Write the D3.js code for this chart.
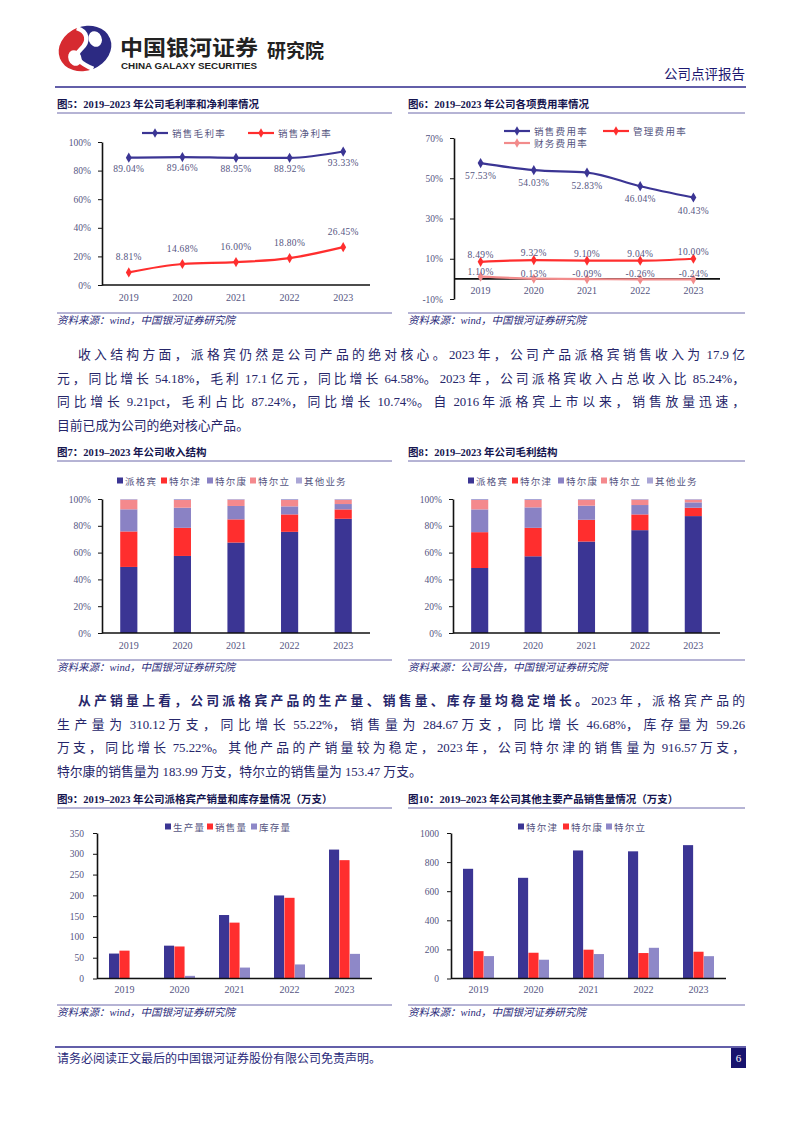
<!DOCTYPE html>
<html><head><meta charset="utf-8">
<script src="https://cdn.jsdelivr.net/npm/d3@7"></script>
<style>
body{margin:0;background:#fff;}
svg{display:block;}
</style></head><body>
<div id="page"></div>
<script>
// Company review report page 6: margins, expense ratios, revenue / gross-profit structure, volumes

const years = ['2019', '2020', '2021', '2022', '2023'];

// Fig 5: gross / net margin (%)
const grossMargin = [89.04, 89.46, 88.95, 88.92, 93.33];
const netMargin = [8.81, 14.68, 16.00, 18.80, 26.45];

// Fig 6: expense ratios (%)
const sellingRate = [57.53, 54.03, 52.83, 46.04, 40.43];
const adminRate = [8.49, 9.32, 9.10, 9.04, 10.00];
const financeRate = [1.10, 0.13, -0.09, -0.26, -0.24];

// Fig 7 / Fig 8: products and shares (%)
const products = ['派格宾', '特尔津', '特尔康', '特尔立', '其他业务'];
const revPegbing = [49.3, 57.5, 67.5, 75.5, 85.24];
const revTeerjin = [26.5, 21.0, 17.3, 13.0, 7.0];
const revTeerkang = [16.5, 15.0, 10.0, 6.0, 4.0];
const revTeerli = [7.2, 5.8, 4.7, 4.8, 3.2];
const revOther = [0.5, 0.7, 0.5, 0.7, 0.56];

const gpPegbing = [48.5, 57.25, 68.25, 76.75, 87.24];
const gpTeerjin = [26.75, 21.25, 16.25, 11.75, 6.25];
const gpTeerkang = [17.0, 15.25, 10.5, 7.0, 4.0];
const gpTeerli = [7.0, 5.5, 4.5, 4.0, 2.0];
const gpOther = [0.75, 0.75, 0.5, 0.5, 0.51];

// Fig 9: 派格宾 volumes (万支)
const volSeries = ['生产量', '销售量', '库存量'];
const production = [60, 79, 152.7, 199.8, 310.12];
const salesVol = [67, 77, 134.4, 194.1, 284.67];
const inventory = [1.5, 6.4, 26.3, 33.8, 59.26];

// Fig 10: other products sales (万支)
const otherSeries = ['特尔津', '特尔康', '特尔立'];
const teerjinSales = [754, 692, 880, 874, 916.57];
const teerkangSales = [188, 177, 198, 175, 183.99];
const teerliSales = [154, 129, 168, 211, 153.47];

const yTicks5 = [0, 20, 40, 60, 80, 100];
const yTicks6 = [-10, 10, 30, 50, 70];
const yTicks9 = [0, 50, 100, 150, 200, 250, 300, 350];
const yTicks10 = [0, 200, 400, 600, 800, 1000];

const NAVY = '#3b3594', RED = '#ff2e2e', PURPLE = '#8a82c4', PINK = '#f4898d',
      LAV = '#aaa6d6', INV = '#8e88c8', FINPINK = '#f28b8b';
const TEXTC = '#26266a', TICKC = '#55557f';
const SERIF = '"Liberation Serif","Noto Sans CJK SC",serif';
const SANS = '"Noto Sans CJK SC","Liberation Sans",sans-serif';

const svg = d3.select('#page').append('svg').attr('width', 802).attr('height', 1133);

// ---------- header ----------
const logo = svg.append('g').attr('transform', 'translate(85,48.5) rotate(-22)');
logo.append('path')
    .attr('d', 'M 0 -22 A 27 22 0 0 0 0 22 C -10 12 -15 3 -4 -1 C 7 -5 9 -15 0 -22 Z')
    .attr('fill', '#d62a30');
logo.append('path')
    .attr('d', 'M 0 -22 A 27 22 0 0 1 0 22 C -10 12 -15 3 -4 -1 C 7 -5 9 -15 0 -22 Z')
    .attr('fill', '#2c2a82');
logo.append('path')
    .attr('d', 'M 0 22 C -10 12 -15 3 -4 -1 C 7 -5 9 -15 0 -22')
    .attr('fill', 'none').attr('stroke', '#fff').attr('stroke-width', 4.5);
logo.append('ellipse').attr('cx', -13).attr('cy', 5).attr('rx', 6.5).attr('ry', 8).attr('fill', '#fff');
logo.append('ellipse').attr('cx', 13).attr('cy', -5).attr('rx', 6.5).attr('ry', 8).attr('fill', '#fff');

svg.append('text').attr('x', 120).attr('y', 54.5)
    .attr('font-family', SANS).attr('font-weight', 'bold').attr('font-size', 21)
    .attr('textLength', 138).attr('lengthAdjust', 'spacingAndGlyphs')
    .attr('fill', '#222').text('中国银河证券');
svg.append('text').attr('x', 121).attr('y', 68.5)
    .attr('font-family', '"Liberation Sans",sans-serif').attr('font-weight', 'bold').attr('font-size', 9)
    .attr('textLength', 136).attr('lengthAdjust', 'spacingAndGlyphs')
    .attr('fill', '#222').text('CHINA GALAXY SECURITIES');
svg.append('text').attr('x', 267).attr('y', 58)
    .attr('font-family', SANS).attr('font-weight', 'bold').attr('font-size', 19)
    .attr('fill', '#222').text('研究院');
svg.append('text').attr('x', 745).attr('y', 79).attr('text-anchor', 'end')
    .attr('font-family', SANS).attr('font-size', 13.5)
    .attr('fill', '#1c1870').text('公司点评报告');
svg.append('line').attr('x1', 55).attr('x2', 746).attr('y1', 87).attr('y2', 87)
    .attr('stroke', '#2f2a8c').attr('stroke-width', 1.5);

// ---------- footer ----------
svg.append('line').attr('x1', 55).attr('x2', 746).attr('y1', 1047).attr('y2', 1047)
    .attr('stroke', '#2f2a8c').attr('stroke-width', 1.5);
svg.append('text').attr('x', 57).attr('y', 1063)
    .attr('font-family', SERIF).attr('font-size', 12)
    .attr('fill', '#2a2a7a').text('请务必阅读正文最后的中国银河证券股份有限公司免责声明。');
svg.append('rect').attr('x', 731).attr('y', 1048).attr('width', 15).attr('height', 20).attr('fill', '#17136e');
svg.append('text').attr('x', 738.5).attr('y', 1062).attr('text-anchor', 'middle')
    .attr('font-family', SERIF).attr('font-size', 11).attr('fill', '#fff').text('6');

// ---------- paragraphs (extra justify space only between CJK characters) ----------
const CJK_RE = /[\u3000-\u303f\u4e00-\u9fff\uff00-\uffef]+|[^\u3000-\u303f\u4e00-\u9fff\uff00-\uffef]+/g;
function para(lines, y0, gap) {
    lines.forEach((ln, i) => {
        const t = svg.append('text').attr('x', ln.x).attr('y', y0 + i * gap)
            .attr('font-family', SERIF).attr('font-size', 12.8).attr('fill', TEXTC);
        const segs = [];
        ln.parts.forEach(p => p.s.match(CJK_RE).forEach(s =>
            segs.push({ s, bold: p.bold, cjk: /[\u3000-\u9fff\uff00-\uffef]/.test(s) })));
        const spans = segs.map(sg => ({ sg, el: t.append('tspan').attr('font-weight', sg.bold ? 'bold' : 'normal').text(sg.s) }));
        if (ln.justify) {
            const natural = t.node().getComputedTextLength();
            let n = d3.sum(segs, s => s.cjk ? s.s.length : 0);
            if (segs[segs.length - 1].cjk) n -= 1;
            const extra = Math.max(0, (745 - ln.x - natural) / n);
            spans.filter(d => d.sg.cjk).forEach(d => d.el.attr('letter-spacing', extra));
        }
    });
}
para([
    { x: 78, justify: true, parts: [{ s: '收入结构方面，派格宾仍然是公司产品的绝对核心。2023 年，公司产品派格宾销售收入为 17.9 亿' }] },
    { x: 57, justify: true, parts: [{ s: '元，同比增长 54.18%，毛利 17.1 亿元，同比增长 64.58%。2023 年，公司派格宾收入占总收入比 85.24%，' }] },
    { x: 57, justify: true, parts: [{ s: '同比增长 9.21pct，毛利占比 87.24%，同比增长 10.74%。自 2016 年派格宾上市以来，销售放量迅速，' }] },
    { x: 57, justify: false, parts: [{ s: '目前已成为公司的绝对核心产品。' }] }
], 359, 23.7);
para([
    { x: 78, justify: true, parts: [{ s: '从产销量上看，公司派格宾产品的生产量、销售量、库存量均稳定增长。', bold: true }, { s: '2023 年，派格宾产品的' }] },
    { x: 57, justify: true, parts: [{ s: '生产量为 310.12 万支，同比增长 55.22%，销售量为 284.67 万支，同比增长 46.68%，库存量为 59.26' }] },
    { x: 57, justify: true, parts: [{ s: '万支，同比增长 75.22%。其他产品的产销量较为稳定，2023 年，公司特尔津的销售量为 916.57 万支，' }] },
    { x: 57, justify: false, parts: [{ s: '特尔康的销售量为 183.99 万支，特尔立的销售量为 153.47 万支。' }] }
], 705, 23.7);

// ---------- figure frames ----------
function frame(x0, x1, titleY, title, srcLineY, src) {
    svg.append('text').attr('x', x0).attr('y', titleY)
        .attr('font-family', SERIF).attr('font-weight', 'bold').attr('font-size', 10.5)
        .attr('fill', '#15154f').text(title);
    svg.append('line').attr('x1', x0).attr('x2', x1).attr('y1', titleY + 5).attr('y2', titleY + 5)
        .attr('stroke', '#6c68aa').attr('stroke-width', 1);
    svg.append('line').attr('x1', x0).attr('x2', x1).attr('y1', srcLineY).attr('y2', srcLineY)
        .attr('stroke', '#6c68aa').attr('stroke-width', 1);
    svg.append('text').attr('x', x0).attr('y', srcLineY + 11)
        .attr('font-family', SERIF).attr('font-style', 'italic').attr('font-size', 10.5)
        .attr('fill', '#2a2a7a').text(src);
}
frame(57, 392, 108, '图5：2019–2023 年公司毛利率和净利率情况', 313, '资料来源：wind，中国银河证券研究院');
frame(408, 745, 108, '图6：2019–2023 年公司各项费用率情况', 313, '资料来源：wind，中国银河证券研究院');
frame(57, 392, 456, '图7：2019–2023 年公司收入结构', 660, '资料来源：wind，中国银河证券研究院');
frame(408, 745, 456, '图8：2019–2023 年公司毛利结构', 660, '资料来源：公司公告，中国银河证券研究院');
frame(57, 392, 803, '图9：2019–2023 年公司派格宾产销量和库存量情况（万支）', 1005, '资料来源：wind，中国银河证券研究院');
frame(408, 745, 803, '图10：2019–2023 年公司其他主要产品销售量情况（万支）', 1005, '资料来源：wind，中国银河证券研究院');

// ---------- axis helpers ----------
function yAxis(g, y, x0, tickVals, fmt, labelGap) {
    const ax = g.append('g').attr('transform', `translate(${x0},0)`)
        .call(d3.axisLeft(y).tickValues(tickVals).tickFormat(fmt).tickSize(4).tickSizeOuter(0).tickPadding(labelGap));
    ax.select('.domain').attr('stroke', '#111').attr('stroke-width', 1.6);
    ax.selectAll('.tick line').attr('stroke', '#111');
    ax.selectAll('.tick text').attr('font-family', SERIF).attr('font-size', 9.5).attr('fill', TICKC);
}
function xLine(g, x, yPos) {
    g.append('line').attr('x1', x.range()[0]).attr('x2', x.range()[1])
        .attr('y1', yPos).attr('y2', yPos).attr('stroke', '#111').attr('stroke-width', 1.6);
}
function xLabels(g, x, yPos) {
    g.selectAll(null).data(years).join('text')
        .attr('x', d => x(d) + x.bandwidth() / 2).attr('y', yPos).attr('text-anchor', 'middle')
        .attr('font-family', SERIF).attr('font-size', 10).attr('fill', TICKC).text(d => d);
}
function lineLegend(g, items, y) {
    items.forEach(it => {
        g.append('line').attr('x1', it.x).attr('x2', it.x + 26).attr('y1', y + (it.dy || 0)).attr('y2', y + (it.dy || 0))
            .attr('stroke', it.color).attr('stroke-width', 2.2);
        g.append('path').attr('d', d3.symbol(d3.symbolDiamond, 26)())
            .attr('transform', `translate(${it.x + 13},${y + (it.dy || 0)})`).attr('fill', it.color);
        g.append('text').attr('x', it.x + 30).attr('y', y + (it.dy || 0) + 3.5)
            .attr('font-family', SERIF).attr('font-size', 9.5).attr('letter-spacing', 1.3)
            .attr('fill', TICKC).text(it.label);
    });
}
function boxLegend(g, items, y) {
    items.forEach(it => {
        g.append('rect').attr('x', it.x).attr('y', y - 3.5).attr('width', 6).attr('height', 6).attr('fill', it.color);
        g.append('text').attr('x', it.x + 8).attr('y', y + 3.5)
            .attr('font-family', SERIF).attr('font-size', 9.5).attr('letter-spacing', 1.2)
            .attr('fill', TICKC).text(it.label);
    });
}
function drawLine(g, x, y, vals, color, labelDy) {
    const pts = vals.map((v, i) => ({ k: years[i], v }));
    const cx = d => x(d.k) + x.bandwidth() / 2;
    g.append('path').datum(pts)
        .attr('d', d3.line().x(cx).y(d => y(d.v)).curve(d3.curveMonotoneX))
        .attr('fill', 'none').attr('stroke', color).attr('stroke-width', 2.2);
    g.selectAll(null).data(pts).join('path')
        .attr('d', d3.symbol(d3.symbolDiamond, 30)())
        .attr('transform', d => `translate(${cx(d)},${y(d.v)})`).attr('fill', color);
    g.selectAll(null).data(pts).join('text')
        .attr('x', cx).attr('y', d => y(d.v) + labelDy).attr('text-anchor', 'middle')
        .attr('font-family', SERIF).attr('font-size', 9.5).attr('letter-spacing', 0.3)
        .attr('fill', TICKC).text(d => d.v.toFixed(2) + '%');
}

// ---------- Fig 5 ----------
{
    const g = svg.append('g');
    const x = d3.scaleBand().domain(years).range([102, 370]);
    const y = d3.scaleLinear().domain([0, 100]).range([285, 142]);
    yAxis(g, y, 102, yTicks5, d => d + '%', 7);
    xLine(g, x, y(0));
    xLabels(g, x, 301);
    drawLine(g, x, y, grossMargin, NAVY, 14);
    drawLine(g, x, y, netMargin, RED, -12);
    lineLegend(g, [{ x: 142, color: NAVY, label: '销售毛利率' }, { x: 248, color: RED, label: '销售净利率' }], 133);
}

// ---------- Fig 6 ----------
{
    const g = svg.append('g');
    const x = d3.scaleBand().domain(years).range([454, 720]);
    const y = d3.scaleLinear().domain([-10, 70]).range([299, 138]);
    yAxis(g, y, 454, yTicks6, d => d + '%', 7);
    xLine(g, x, y(0));
    xLabels(g, x, 294);
    drawLine(g, x, y, financeRate, FINPINK, -2);
    drawLine(g, x, y, adminRate, RED, -4);
    drawLine(g, x, y, sellingRate, NAVY, 16);
    lineLegend(g, [
        { x: 504, color: NAVY, label: '销售费用率' },
        { x: 603, color: RED, label: '管理费用率' },
        { x: 504, color: FINPINK, label: '财务费用率', dy: 12 }
    ], 131);
}

// ---------- Fig 7 / Fig 8: stacked structure ----------
const structColors = [NAVY, RED, PURPLE, PINK, LAV];
function stacked(x0, x1, seriesVals) {
    const g = svg.append('g');
    const x = d3.scaleBand().domain(years).range([x0, x1]).paddingInner(0.68).paddingOuter(0.34);
    const y = d3.scaleLinear().domain([0, 100]).range([633, 499]);
    const rows = years.map((yr, i) => {
        const r = { year: yr };
        products.forEach((p, j) => { r[p] = seriesVals[j][i]; });
        return r;
    });
    const stack = d3.stack().keys(products)(rows);
    g.selectAll(null).data(stack).join('g').attr('fill', (d, i) => structColors[i])
        .selectAll('rect').data(d => d).join('rect')
        .attr('x', d => x(d.data.year)).attr('width', x.bandwidth())
        .attr('y', d => y(Math.min(d[1], 100))).attr('height', d => y(d[0]) - y(Math.min(d[1], 100)));
    yAxis(g, y, x0, yTicks5, d => d + '%', 7);
    const xb = d3.scaleBand().domain(years).range([x0, x1]);
    xLine(g, xb, y(0));
    xLabels(g, xb, 649);
    const lx = x0 + 15;
    boxLegend(g, products.map((p, i) => ({
        x: lx + [0, 44, 90, 133, 179][i], color: structColors[i], label: p
    })), 481);
}
stacked(102, 370, [revPegbing, revTeerjin, revTeerkang, revTeerli, revOther]);
stacked(453, 720, [gpPegbing, gpTeerjin, gpTeerkang, gpTeerli, gpOther]);

// ---------- Fig 9 / Fig 10: grouped bars ----------
function grouped(x0, x1, yMax, ticks, names, vals, colors, legendXs, labelGap) {
    const g = svg.append('g');
    const x = d3.scaleBand().domain(years).range([x0, x1]).paddingInner(0.425).paddingOuter(0.2125);
    const xi = d3.scaleBand().domain(names).range([0, x.bandwidth()]).padding(0.03);
    const y = d3.scaleLinear().domain([0, yMax]).range([978.5, 833]);
    const rows = years.map((yr, i) => ({ year: yr, vals: names.map((n, j) => ({ n, v: vals[j][i], c: colors[j] })) }));
    g.selectAll(null).data(rows).join('g')
        .attr('transform', d => `translate(${x(d.year)},0)`)
        .selectAll('rect').data(d => d.vals).join('rect')
        .attr('x', d => xi(d.n)).attr('width', xi.bandwidth())
        .attr('y', d => y(d.v)).attr('height', d => y(0) - y(d.v)).attr('fill', d => d.c);
    yAxis(g, y, x0, ticks, d => d, labelGap);
    const xb = d3.scaleBand().domain(years).range([x0, x1]);
    xLine(g, xb, y(0));
    xLabels(g, xb, 993);
    boxLegend(g, names.map((n, i) => ({ x: legendXs[i], color: colors[i], label: n })), 827);
}
grouped(97, 372, 350, yTicks9, volSeries, [production, salesVol, inventory], [NAVY, RED, INV], [165, 207, 251], 9);
grouped(451, 726, 1000, yTicks10, otherSeries, [teerjinSales, teerkangSales, teerliSales], [NAVY, RED, INV], [518, 563, 606], 8);
</script>
</body></html>
